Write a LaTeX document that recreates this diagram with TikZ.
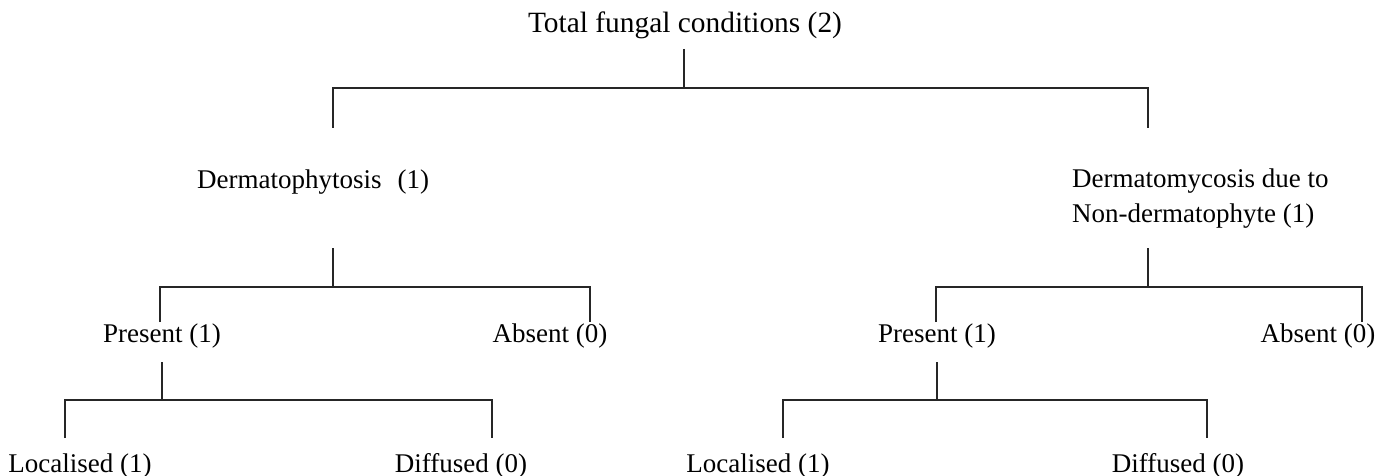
\documentclass[tikz,border=0pt]{standalone}
\usepackage{fontspec}
\setmainfont{Liberation Serif}
\begin{document}
\begin{tikzpicture}[x=1pt,y=-1pt,
  lbl/.style={anchor=base,inner sep=0pt,font=\fontsize{27}{35}\selectfont},
  conn/.style={line width=1.6pt,black!85}]
\useasboundingbox (0,0) rectangle (1386,476);
% text nodes
\node[lbl,font=\fontsize{29.4}{35}\selectfont] (root) at (685,33) {Total fungal conditions (2)};
\node[lbl,anchor=base west] (derm) at (197,188) {Dermatophytosis\hspace{16pt}(1)};
\node[lbl,anchor=base west] (nond1) at (1072,187) {Dermatomycosis due to};
\node[lbl,anchor=base west] (nond2) at (1072,222) {Non-dermatophyte (1)};
\node[lbl] (pL) at (162,342) {Present (1)};
\node[lbl] (aL) at (550,342) {Absent (0)};
\node[lbl] (pR) at (937,342) {Present (1)};
\node[lbl] (aR) at (1318,342) {Absent (0)};
\node[lbl] (lL) at (80,472) {Localised (1)};
\node[lbl] (dL) at (461,472) {Diffused (0)};
\node[lbl] (lR) at (758,472) {Localised (1)};
\node[lbl] (dR) at (1178,472) {Diffused (0)};
% junction coordinates
\coordinate (r0) at (684,49);  \coordinate (r1) at (684,88);
\coordinate (rL) at (333,88);  \coordinate (rR) at (1148,88);
\coordinate (rLe) at (333,128); \coordinate (rRe) at (1148,128);
% left level 2
\coordinate (d0) at (333,248); \coordinate (d1) at (333,287);
\coordinate (dLb) at (160,287); \coordinate (dRb) at (590,287);
\coordinate (dLe) at (160,322); \coordinate (dRe) at (590,322);
% right level 2
\coordinate (n0) at (1148,248); \coordinate (n1) at (1148,287);
\coordinate (nLb) at (936,287); \coordinate (nRb) at (1362,287);
\coordinate (nLe) at (936,322); \coordinate (nRe) at (1362,322);
% left level 3
\coordinate (p0) at (162,362); \coordinate (p1) at (162,400);
\coordinate (pLb) at (65,400); \coordinate (pRb) at (492,400);
\coordinate (pLe) at (65,438); \coordinate (pRe) at (492,438);
% right level 3
\coordinate (q0) at (937,362); \coordinate (q1) at (937,400);
\coordinate (qLb) at (783,400); \coordinate (qRb) at (1207,400);
\coordinate (qLe) at (783,438); \coordinate (qRe) at (1207,438);
% connectors
\draw[conn] (r0) -- (r1);
\draw[conn] (rLe) -- (rL) -- (rR) -- (rRe);
\draw[conn] (d0) -- (d1);
\draw[conn] (dLe) -- (dLb) -- (dRb) -- (dRe);
\draw[conn] (n0) -- (n1);
\draw[conn] (nLe) -- (nLb) -- (nRb) -- (nRe);
\draw[conn] (p0) -- (p1);
\draw[conn] (pLe) -- (pLb) -- (pRb) -- (pRe);
\draw[conn] (q0) -- (q1);
\draw[conn] (qLe) -- (qLb) -- (qRb) -- (qRe);
\end{tikzpicture}
\end{document}
